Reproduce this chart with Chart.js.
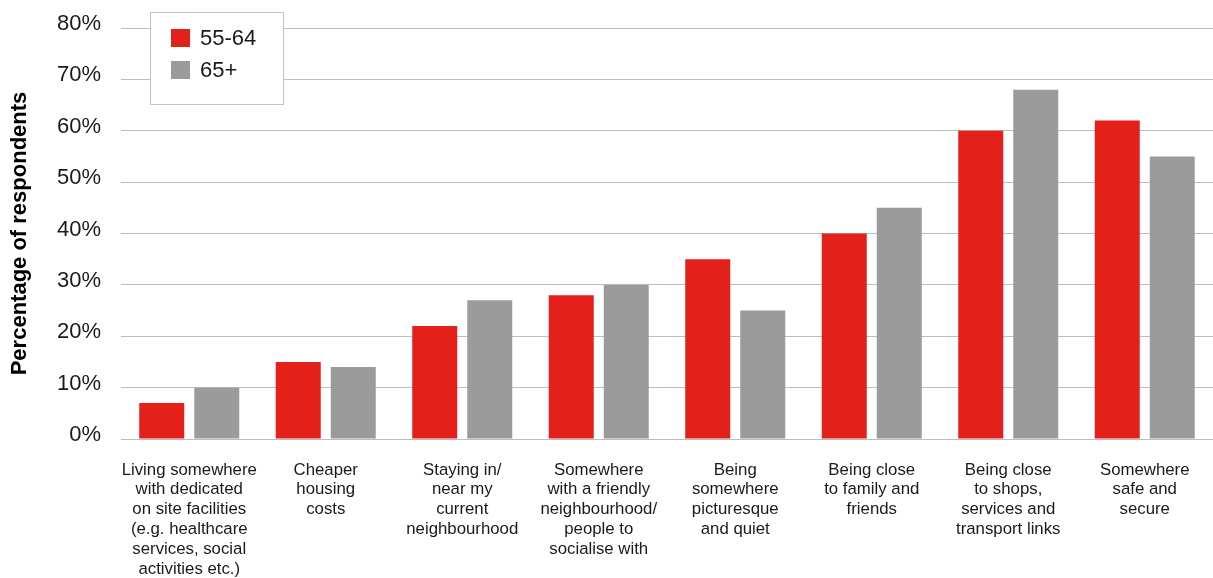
<!DOCTYPE html>
<html>
<head>
<meta charset="utf-8">
<script src="https://cdn.jsdelivr.net/npm/chart.js@4/dist/chart.umd.min.js"></script>
<style>
  html, body { margin: 0; padding: 0; background: #fff; }
  #wrap { width: 1213px; height: 578px; }
</style>
</head>
<body>
<div id="wrap"><canvas id="myChart" width="1213" height="578"></canvas></div>
<script>
const COLOUR_YOUNGER = '#e3211a';
const COLOUR_OLDER = '#9b9b9c';
const FONT = '"Liberation Sans", Arial, sans-serif';

const categories = [
    ['Living somewhere', 'with dedicated', 'on site facilities', '(e.g. healthcare', 'services, social', 'activities etc.)'],
    ['Cheaper', 'housing', 'costs'],
    ['Staying in/', 'near my', 'current', 'neighbourhood'],
    ['Somewhere', 'with a friendly', 'neighbourhood/', 'people to', 'socialise with'],
    ['Being', 'somewhere', 'picturesque', 'and quiet'],
    ['Being close', 'to family and', 'friends'],
    ['Being close', 'to shops,', 'services and', 'transport links'],
    ['Somewhere', 'safe and', 'secure']
];
const seriesNames = ['55-64', '65+'];
const values5564 = [7, 15, 22, 28, 35, 40, 60, 62];
const values65 = [10, 14, 27, 30, 25, 45, 68, 55];
const yTicks = [0, 10, 20, 30, 40, 50, 60, 70, 80];

// legend drawn as a box inside the plot, like the original
const boxLegend = {
    id: 'boxLegend',
    afterDraw(chart) {
        const ctx = chart.ctx;
        const x = 150.5, y = 12.5, w = 133, h = 92;
        ctx.save();
        ctx.fillStyle = '#fff';
        ctx.strokeStyle = '#c4c4c4';
        ctx.lineWidth = 1;
        ctx.fillRect(x, y, w, h);
        ctx.strokeRect(x, y, w, h);
        ctx.font = '22px ' + FONT;
        ctx.textBaseline = 'middle';
        chart.data.datasets.forEach((ds, i) => {
            const cy = 38 + i * 32;
            ctx.fillStyle = ds.backgroundColor;
            ctx.fillRect(171, cy - 9, 19, 18);
            ctx.fillStyle = '#1a1a1a';
            ctx.fillText(ds.label, 200, cy + 1);
        });
        ctx.restore();
    }
};

var ctx = document.getElementById('myChart');
var myChart = new Chart(ctx, {
    type: 'bar',
    data: {
        labels: categories,
        datasets: [{
            label: seriesNames[0],
            backgroundColor: COLOUR_YOUNGER,
            data: values5564,
            categoryPercentage: 0.806,
            barPercentage: 0.818
        }, {
            label: seriesNames[1],
            backgroundColor: COLOUR_OLDER,
            data: values65,
            categoryPercentage: 0.806,
            barPercentage: 0.818
        }]
    },
    options: {
        responsive: false,
        animation: false,
        layout: { padding: { top: 28, right: 0, bottom: 0, left: 0 } },
        plugins: {
            legend: { display: false },
            tooltip: { enabled: false }
        },
        scales: {
            x: {
                grid: { display: false, drawTicks: false },
                border: { display: false },
                afterFit: (axis) => {
                    // labels may hang past the plot edges, as in the original
                    axis.height = 139;
                    axis.paddingLeft = 0;
                    axis.paddingRight = 0;
                },
                ticks: {
                    color: '#1a1a1a',
                    maxRotation: 0,
                    autoSkip: false,
                    padding: 21,
                    font: { family: FONT, size: 16.8, lineHeight: 1.18 }
                }
            },
            y: {
                min: 0,
                max: 80,
                afterBuildTicks: (axis) => { axis.ticks = yTicks.map(v => ({ value: v })); },
                afterFit: (axis) => {
                    axis.width = 121;
                    axis.paddingTop = 0;
                    axis.paddingBottom = 0;
                },
                grid: { color: '#bdbdbd', lineWidth: 1, drawTicks: false },
                border: { display: false },
                ticks: {
                    color: '#1a1a1a',
                    padding: 20,
                    labelOffset: -4,
                    font: { family: FONT, size: 22 },
                    callback: (v) => v + '%'
                },
                title: {
                    display: true,
                    text: 'Percentage of respondents',
                    color: '#000',
                    padding: { top: 7, bottom: 24 },
                    font: { family: FONT, size: 22, weight: 'bold' }
                }
            }
        }
    },
    plugins: [boxLegend]
});
</script>
</body>
</html>
